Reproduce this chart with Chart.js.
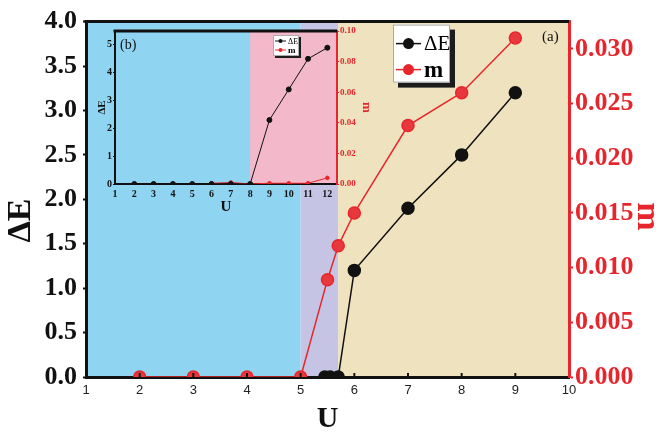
<!DOCTYPE html>
<html>
<head>
<meta charset="utf-8">
<script src="https://cdn.jsdelivr.net/npm/chart.js@4"></script>
<style>
  body { margin: 0; background: #fff; }
  #wrap { position: relative; width: 664px; height: 435px; }
  #main { position: absolute; left: 0; top: 0; }
  #inset { position: absolute; left: 96px; top: 24px; }
</style>
</head>
<body>
<div id="wrap">
  <canvas id="main" width="664" height="435"></canvas>
  <canvas id="inset" width="290" height="196"></canvas>
</div>
<script>
// main panel (a)
var U_dE = [5.45, 5.55, 5.7, 6, 7, 8, 9];
var dE = [0, 0, 0, 1.2, 1.9, 2.5, 3.2];
var U_m = [2, 3, 4, 5, 5.5, 5.7, 6, 7, 8, 9];
var m = [0, 0, 0, 0, 0.0089, 0.012, 0.015, 0.023, 0.026, 0.031];
var xTicks = [1, 2, 3, 4, 5, 6, 7, 8, 9, 10];
var dETicks = [0, 0.5, 1, 1.5, 2, 2.5, 3, 3.5, 4];
var mTicks = [0, 0.005, 0.01, 0.015, 0.02, 0.025, 0.03];
var bands = [[1, 5, '#8fd4f1'], [5, 5.7, '#c5c4e4'], [5.7, 10, '#eee2bf']];

// inset (b)
var inU_dE = [2, 3, 4, 5, 6, 7, 8, 9, 10, 11, 12];
var in_dE = [0, 0, 0, 0, 0, 0, 0, 2.3, 3.4, 4.5, 4.9];
var inU_m = [6, 7, 8, 9, 10, 11, 12];
var in_m = [0.0005, 0.001, 0, 0.0005, 0.0005, 0.0005, 0.004];
var inXTicks = [1, 2, 3, 4, 5, 6, 7, 8, 9, 10, 11, 12];
var inDETicks = [0, 1, 2, 3, 4, 5];
var inMTicks = [0, 0.02, 0.04, 0.06, 0.08, 0.1];
var inBands = [[1, 8, '#8fd4f1'], [8, 12.5, '#f3b9ca']];

var RED = '#e6262c';
var SERIF = 'Liberation Serif';

function pts(xs, ys) {
  return xs.map(function(x, i) { return {x: x, y: ys[i]}; });
}
function fixTicks(arr) {
  return function(s) { s.ticks = arr.map(function(v) { return {value: v}; }); };
}
function fixW(w) { return function(s) { s.width = w; }; }
function fixH(h) { return function(s) { s.height = h; }; }

function drawLegend(ctx, L) {
  ctx.save();
  ctx.fillStyle = '#1c1c1c';
  ctx.fillRect(L.x + L.sh, L.y + L.sh, L.w, L.h);
  ctx.fillStyle = '#fff';
  ctx.fillRect(L.x, L.y, L.w, L.h);
  ctx.strokeStyle = '#aaa';
  ctx.lineWidth = 1;
  ctx.strokeRect(L.x + 0.5, L.y + 0.5, L.w - 1, L.h - 1);
  L.rows.forEach(function(r) {
    ctx.strokeStyle = r.color;
    ctx.lineWidth = L.lw;
    ctx.beginPath();
    ctx.moveTo(L.x + L.l0, r.y);
    ctx.lineTo(L.x + L.l1, r.y);
    ctx.stroke();
    ctx.fillStyle = r.color;
    ctx.beginPath();
    ctx.arc(L.x + (L.l0 + L.l1) / 2, r.y, L.r, 0, Math.PI * 2);
    ctx.fill();
    ctx.fillStyle = '#000';
    ctx.font = r.font;
    ctx.textBaseline = 'middle';
    ctx.textAlign = 'left';
    ctx.fillText(r.text, L.x + L.tx, r.y + 1);
  });
  ctx.restore();
}

var decor = {
  id: 'decor',
  beforeDraw: function(chart, args, o) {
    var ctx = chart.ctx, a = chart.chartArea, x = chart.scales.x;
    ctx.save();
    o.bands.forEach(function(b) {
      var x0 = x.getPixelForValue(b[0]), x1 = x.getPixelForValue(b[1]);
      ctx.fillStyle = b[2];
      ctx.fillRect(x0, a.top, x1 - x0, a.bottom - a.top);
    });
    ctx.restore();
  },
  afterDraw: function(chart, args, o) {
    var ctx = chart.ctx, a = chart.chartArea, x = chart.scales.x;
    ctx.save();
    // top frame
    ctx.strokeStyle = '#111';
    ctx.lineWidth = o.frame;
    ctx.beginPath();
    ctx.moveTo(a.left - o.frame / 2, a.top);
    ctx.lineTo(a.right, a.top);
    ctx.stroke();
    // inward x ticks
    ctx.lineWidth = 2;
    o.inTicks.forEach(function(v) {
      var px = x.getPixelForValue(v);
      ctx.beginPath();
      ctx.moveTo(px, a.bottom);
      ctx.lineTo(px, a.bottom - o.tickLen);
      ctx.stroke();
    });
    // panel label
    ctx.fillStyle = '#111';
    ctx.font = o.label.font;
    ctx.textBaseline = 'middle';
    ctx.textAlign = 'left';
    ctx.fillText(o.label.text, a.left + o.label.dx, a.top + o.label.dy);
    ctx.restore();
    var L = Object.assign({}, o.legend);
    L.x = a.left + L.dx;
    L.y = a.top + L.dy;
    L.rows = L.rows.map(function(r) { return Object.assign({}, r, {y: L.y + r.dy}); });
    drawLegend(ctx, L);
  }
};

Chart.defaults.font.family = SERIF;

new Chart(document.getElementById('main'), {
  type: 'line',
  data: {
    datasets: [
      {
        label: 'ΔE',
        data: pts(U_dE, dE),
        yAxisID: 'y',
        borderColor: '#111',
        backgroundColor: '#111',
        borderWidth: 1.5,
        pointRadius: 6,
        pointHoverRadius: 6,
        clip: {left: 10, top: 10, right: 10, bottom: 0}
      },
      {
        label: 'm',
        data: pts(U_m, m),
        yAxisID: 'y1',
        borderColor: RED,
        backgroundColor: '#e8383d',
        borderWidth: 1.5,
        pointRadius: 6,
        pointHoverRadius: 6,
        clip: {left: 10, top: 10, right: 10, bottom: 0}
      }
    ]
  },
  options: {
    responsive: false,
    devicePixelRatio: 1,
    animation: false,
    layout: {padding: {top: 21, left: 0, right: 0, bottom: 0}},
    plugins: {
      legend: {display: false},
      tooltip: {enabled: false},
      decor: {
        bands: bands,
        frame: 3,
        inTicks: [2, 3, 4, 5, 6, 7, 8, 9],
        tickLen: 4,
        label: {text: '(a)', font: '15px ' + SERIF, dx: 456, dy: 15},
        legend: {
          dx: 307, dy: 3, w: 57, h: 58, sh: 5, lw: 1.5, r: 5.5, l0: 3, l1: 28, tx: 31,
          rows: [
            {text: 'ΔE', color: '#111', font: '21px ' + SERIF, dy: 19},
            {text: 'm', color: RED, font: 'bold 23px ' + SERIF, dy: 45}
          ]
        }
      }
    },
    scales: {
      x: {
        type: 'linear',
        min: 1,
        max: 10,
        z: 1,
        afterBuildTicks: fixTicks(xTicks),
        afterFit: fixH(58),
        border: {color: '#111', width: 3},
        grid: {drawOnChartArea: false, drawTicks: false},
        ticks: {color: '#222', padding: 6, font: {family: 'Liberation Sans', size: 13}},
        title: {display: true, text: 'U', color: '#111', padding: {top: 0, bottom: 1},
                font: {family: SERIF, size: 30, weight: 'bold', lineHeight: 1}}
      },
      y: {
        position: 'left',
        min: 0,
        max: 4,
        z: 1,
        afterBuildTicks: fixTicks(dETicks),
        afterFit: fixW(86),
        border: {color: '#111', width: 3},
        grid: {drawOnChartArea: false, tickLength: 3, tickWidth: 2, color: '#111'},
        ticks: {color: '#111', padding: 6, font: {size: 26, weight: 'bold'},
                callback: function(v) { return v.toFixed(1); }},
        title: {display: true, text: 'ΔE     ', color: '#111', padding: {top: 4, bottom: 0},
                font: {family: SERIF, size: 34, weight: 'bold', lineHeight: 1}}
      },
      y1: {
        position: 'right',
        min: 0,
        max: 0.0325,
        z: 1,
        afterBuildTicks: fixTicks(mTicks),
        afterFit: fixW(95),
        border: {color: RED, width: 3},
        grid: {drawOnChartArea: false, tickLength: 4, tickWidth: 2, color: RED},
        ticks: {color: RED, padding: 2, font: {size: 26, weight: 'bold'},
                callback: function(v) { return v.toFixed(3); }},
        title: {display: true, text: '    m', color: RED, padding: {top: 0, bottom: 0},
                font: {family: SERIF, size: 34, weight: 'bold', lineHeight: 1}}
      }
    }
  },
  plugins: [decor]
});

new Chart(document.getElementById('inset'), {
  type: 'line',
  data: {
    datasets: [
      {
        label: 'ΔE',
        data: pts(inU_dE, in_dE),
        yAxisID: 'y',
        borderColor: '#111',
        backgroundColor: '#111',
        borderWidth: 1,
        pointRadius: 2.5,
        pointHoverRadius: 2.5
      },
      {
        label: 'm',
        data: pts(inU_m, in_m),
        yAxisID: 'y1',
        borderColor: RED,
        backgroundColor: RED,
        borderWidth: 1,
        pointRadius: 1.8,
        pointHoverRadius: 1.8
      }
    ]
  },
  options: {
    responsive: false,
    devicePixelRatio: 1,
    animation: false,
    layout: {padding: {top: 5, left: 0, right: 0, bottom: 0}},
    plugins: {
      legend: {display: false},
      tooltip: {enabled: false},
      decor: {
        bands: inBands,
        frame: 3,
        inTicks: [],
        tickLen: 0,
        label: {text: '(b)', font: '14px ' + SERIF, dx: 5, dy: 14},
        legend: {
          dx: 158, dy: 4, w: 26, h: 21, sh: 2, lw: 1, r: 2, l0: 2, l1: 13, tx: 15,
          rows: [
            {text: 'ΔE', color: '#111', font: '8px ' + SERIF, dy: 6},
            {text: 'm', color: RED, font: 'bold 9px ' + SERIF, dy: 15}
          ]
        }
      }
    },
    scales: {
      x: {
        type: 'linear',
        min: 1,
        max: 12.5,
        z: 1,
        afterBuildTicks: fixTicks(inXTicks),
        afterFit: fixH(36),
        border: {color: '#111', width: 2},
        grid: {drawOnChartArea: false, drawTicks: false},
        ticks: {color: '#111', padding: 4, font: {size: 10, weight: 'bold'}},
        title: {display: true, text: 'U', color: '#111', padding: {top: 0, bottom: 5},
                font: {family: SERIF, size: 15, weight: 'bold', lineHeight: 1}}
      },
      y: {
        position: 'left',
        min: 0,
        max: 5.5,
        z: 1,
        afterBuildTicks: fixTicks(inDETicks),
        afterFit: fixW(19),
        border: {color: '#111', width: 2},
        grid: {drawOnChartArea: false, tickLength: 2, tickWidth: 1, color: '#111'},
        ticks: {color: '#111', padding: 1, font: {size: 10, weight: 'bold'}},
        title: {display: true, text: 'ΔE', color: '#111', padding: {top: 1, bottom: 0},
                font: {family: SERIF, size: 11, weight: 'bold', lineHeight: 1}}
      },
      y1: {
        position: 'right',
        min: 0,
        max: 0.1,
        z: 1,
        afterBuildTicks: fixTicks(inMTicks),
        afterFit: fixW(49),
        border: {color: RED, width: 2},
        grid: {drawOnChartArea: false, tickLength: 2, tickWidth: 1, color: RED},
        ticks: {color: RED, padding: 1, font: {size: 9, weight: 'bold'},
                callback: function(v) { return v.toFixed(2); }},
        title: {display: true, text: 'm', color: RED, padding: {top: 13, bottom: 0},
                font: {family: SERIF, size: 13, weight: 'bold', lineHeight: 1}}
      }
    }
  },
  plugins: [decor]
});
</script>
</body>
</html>
